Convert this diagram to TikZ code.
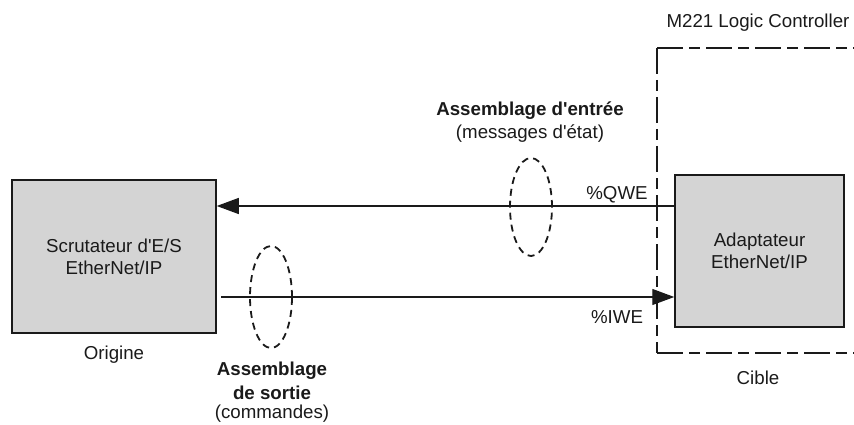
\documentclass[tikz,border=0pt]{standalone}
\usepackage{fontspec}
\newfontfamily\lib{Liberation Sans}
\usetikzlibrary{shapes.geometric,arrows.meta}
\definecolor{boxgray}{HTML}{D4D4D4}
\definecolor{ink}{HTML}{1A1A1A}
\begin{document}
\begin{tikzpicture}[x=1pt,y=-1pt,
  every node/.style={font=\lib\fontsize{18.7}{22}\selectfont, text=ink},
  blk/.style={draw=ink, line width=1.5pt, fill=boxgray, align=center, inner sep=0pt},
  ring/.style={draw=ink, ellipse, dash pattern=on 7pt off 5pt, line width=1.8pt, minimum width=42pt, minimum height=98pt, inner sep=0pt},
  flow/.style={draw=ink, line width=1.3pt, -{Triangle[length=22pt,width=16pt]}},
  lbl/.style={align=center, inner sep=0pt}]
\useasboundingbox (0,0) rectangle (854,425);
% dashed controller frame
\draw[ink, line width=1.4pt, dash pattern=on 26pt off 6pt on 11pt off 6pt] (657,48) -- (856,48);
\draw[ink, line width=1.4pt, dash pattern=on 26pt off 6pt on 11pt off 6pt] (657,353) -- (856,353);
\draw[ink, line width=1.4pt, dash pattern=on 26pt off 6pt on 11pt off 6pt] (657,48) -- (657,353);
\node[lbl] (title) at (758,23) {M221 Logic Controller};
\node[lbl] (cible) at (758,378) {Cible};
% boxes
\node[blk, minimum width=204pt, minimum height=153pt] (lb) at (114,256.5) {Scrutateur d'E/S\\EtherNet/IP};
\node[blk, minimum width=169pt, minimum height=152pt] (rb) at (759.5,251) {Adaptateur\\EtherNet/IP};
\node[lbl] (orig) at (114,355) {Origine};
% connectors
\coordinate (qa) at (675,206);
\coordinate (qb) at (218,206);
\coordinate (ia) at (221,297);
\coordinate (ib) at (675,297);
\draw[flow] (rb.west |- qa) -- (lb.east |- qb);
\draw[flow] (ia) -- (rb.west |- ib);
\node[lbl] (qwe) at (617,195) {\%QWE};
\node[lbl] (iwe) at (617,317) {\%IWE};
% assemblies
\node[ring] (e1) at (531,207) {};
\node[ring, minimum height=102pt] (e2) at (271,297) {};
\node[lbl] (ein) at (530,111) {\textbf{Assemblage d'entrée}};
\node[lbl] (ein2) at (530,134) {(messages d'état)};
\node[lbl] (sor) at (272,371) {\textbf{Assemblage}};
\node[lbl] (sor2) at (272,393) {\textbf{de sortie}};
\node[lbl] (sor3) at (272,414) {(commandes)};
\end{tikzpicture}
\end{document}
